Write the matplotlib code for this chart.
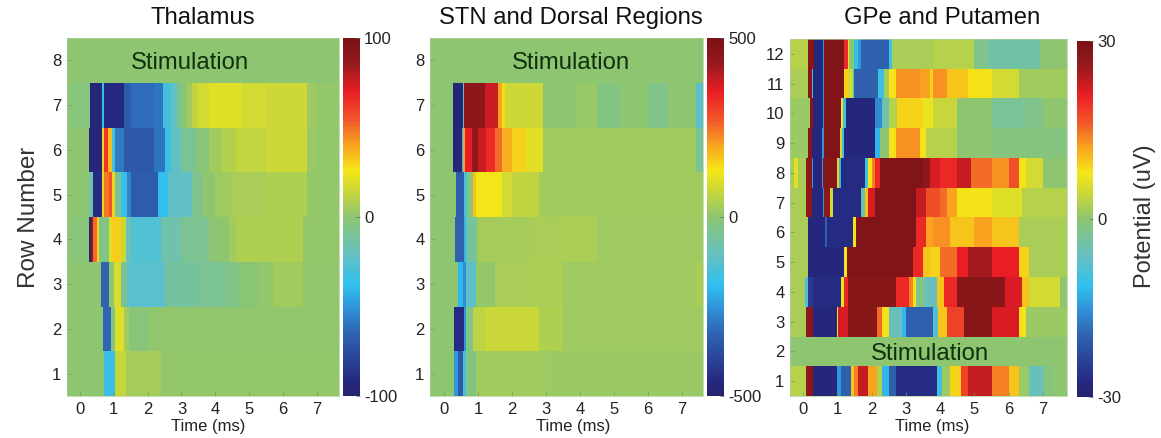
import matplotlib
matplotlib.use("Agg")
import matplotlib.pyplot as plt
from matplotlib.colors import LinearSegmentedColormap, Normalize
from matplotlib.cm import ScalarMappable

plt.rcParams['font.family'] = ['Liberation Sans', 'DejaVu Sans']

W, H = 1161, 438

# colour scale
cmap_pos = [0.0, 0.04, 0.17, 0.24, 0.31, 0.39, 0.50, 0.57, 0.63, 0.70, 0.77, 0.85, 0.93, 1.0]
cmap_col = ["#25246f", "#25287f", "#2e62b0", "#2f8fd6", "#30c0ee", "#63c0c4", "#8cc572",
            "#c8d63a", "#f5e716", "#f9a51f", "#f1592a", "#ea1d25", "#961a1d", "#7a1216"]

# each row: start time of every step (ms) and its value
thal_8_t = [-0.4]
thal_8_v = [0]
thal_7_t = [-0.4, 0.3, 0.65, 0.72, 1.3, 1.5, 2.2, 2.45, 2.7, 2.85, 3.0, 3.15, 3.3, 3.5, 3.8, 4.8, 5.5, 6.7, 7.0]
thal_7_v = [-3, -95, -35, -92, -68, -63, -60, -32, -22, -12, 0, 5, 12, 17, 20, 17, 15, 4, 2]
thal_6_t = [-0.4, 0.27, 0.65, 0.72, 0.82, 0.95, 1.05, 1.3, 2.2, 2.5, 2.7, 3.0, 3.4, 3.8, 4.2, 4.6, 5.5, 6.7, 7.0]
thal_6_v = [0, -95, 30, 62, 35, -30, -58, -70, -60, -35, -22, -10, -2, 5, 9, 13, 15, 3, 2]
thal_5_t = [-0.4, 0.27, 0.4, 0.65, 0.72, 0.85, 0.95, 1.05, 1.2, 1.4, 1.5, 2.3, 2.6, 3.3, 3.6, 4.0, 4.5, 5.5, 6.7]
thal_5_v = [0, -15, -90, 30, 48, 55, 30, -10, -35, -55, -68, -38, -22, -8, 0, 4, 7, 8, 2]
thal_4_t = [-0.4, 0.27, 0.33, 0.4, 0.5, 0.55, 0.85, 0.95, 1.2, 1.35, 1.5, 2.4, 3.0, 3.8, 4.4, 4.6, 6.6]
thal_4_v = [-2, -95, 90, 50, 30, -5, 20, 32, 15, -18, -28, -15, -8, 0, 5, 8, 2]
thal_3_t = [-0.4, 0.62, 0.85, 1.0, 1.2, 1.4, 2.5, 3.5, 4.3, 4.7, 5.3, 5.7, 6.6]
thal_3_v = [0, -65, 0, 18, -10, -25, -12, -9, -6, -1, 2, 5, 1]
thal_2_t = [-0.4, 0.68, 0.92, 1.05, 1.3, 1.45, 2.0]
thal_2_v = [0, -65, -5, 20, 5, -2, 1]
thal_1_t = [-0.4, 0.7, 1.03, 1.35, 2.4]
thal_1_v = [0, -35, 14, 6, 2]

stn_8_t = [-0.45]
stn_8_v = [0]
stn_7_t = [-0.45, 0.28, 0.57, 0.6, 1.2, 1.6, 1.7, 1.8, 2.9, 3.9, 4.5, 5.2, 6.0, 6.6, 7.4]
stn_7_v = [0, -480, -100, 450, 380, 200, 140, 75, 0, 15, -20, 0, -30, 0, -120]
stn_6_t = [-0.45, 0.28, 0.52, 0.57, 0.62, 0.82, 1.0, 1.25, 1.5, 1.7, 2.0, 2.4, 2.9, 7.4]
stn_6_v = [0, -480, -200, 200, 350, 450, 380, 330, 250, 190, 150, 105, 25, -50]
stn_5_t = [-0.45, 0.35, 0.6, 0.68, 0.85, 0.95, 1.7, 2.0, 2.8]
stn_5_v = [0, -340, -150, -10, 170, 125, 85, 60, 25]
stn_4_t = [-0.45, 0.33, 0.6, 0.65, 0.9, 1.0, 2.5, 3.5, 4.5]
stn_4_v = [0, -330, -200, -70, -10, 28, 32, 38, 20]
stn_3_t = [-0.45, 0.42, 0.55, 0.65, 0.95, 1.5, 2.5, 3.5, 7.4]
stn_3_v = [0, -200, -260, -120, 10, 34, 38, 20, 35]
stn_2_t = [-0.45, 0.3, 0.6, 0.65, 0.85, 1.2, 2.8, 3.5]
stn_2_v = [0, -450, -250, -30, 55, 72, 40, 20]
stn_1_t = [-0.45, 0.3, 0.4, 0.55, 0.65, 0.95, 3.0]
stn_1_v = [0, -250, -350, -150, -20, 25, 18]

gpe_12_t = [-0.4, 0.15, 0.32, 0.57, 0.62, 1.2, 1.3, 1.35, 1.5, 1.6, 1.7, 2.5, 2.6, 3.8, 5.0, 5.4, 6.9]
gpe_12_v = [3, 28, -28, -15, 29, 20, 8, 0, -11, -15, -20, -10, 2, 3, -2, -4, 0]
gpe_11_t = [-0.4, 0.15, 0.25, 0.3, 0.57, 0.62, 1.2, 1.3, 1.45, 1.5, 2.2, 2.35, 2.5, 2.7, 3.4, 3.7, 3.8, 4.2, 4.8, 5.5, 6.3]
gpe_11_v = [2, 28, -10, -28, -15, 29, 9, 5, -9, -20, -10, 2, 8, 13, 12, 9, 13, 10, 8, 5, 1.5]
gpe_10_t = [-0.4, 0.2, 0.3, 0.57, 0.6, 1.1, 1.17, 1.25, 2.1, 2.3, 2.5, 2.75, 3.5, 3.8, 4.5, 5.5, 6.5, 7.0]
gpe_10_v = [1, 28, -28, -15, 29, 8, -10, -28, -16, -5, 3, 9, 7, 4, 0, -3, -2, 0]
gpe_9_t = [-0.4, 0.15, 0.25, 0.55, 0.6, 1.07, 1.15, 1.2, 2.1, 2.25, 2.5, 2.7, 3.4, 3.6, 4.5, 5.5]
gpe_9_v = [1, 28, -28, -15, 29, 5, -10, -28, -12, 0, 8, 13, 8, 3, 0, -1]
gpe_8_t = [-0.4, -0.25, -0.15, 0.1, 0.25, 0.3, 0.55, 0.58, 1.0, 1.05, 1.1, 1.8, 1.9, 2.0, 2.1, 2.25, 3.5, 3.7, 4.0, 4.5, 4.9, 5.5, 6.0, 6.3, 6.5, 7.0]
gpe_8_v = [2, 6, 2, 27, -15, -28, -15, 28, 9, -12, -27, -10, 8, 14, 20, 29, 27, 22, 20, 23, 15, 13, 17, 8, 5, 0]
gpe_7_t = [-0.4, 0.1, 0.25, 0.57, 0.6, 0.8, 0.87, 1.7, 1.8, 1.9, 2.1, 3.3, 3.6, 4.0, 4.2, 4.5, 5.5, 6.4]
gpe_7_v = [2, 27, -28, -15, 27, 5, -27, -5, 10, 22, 29, 23, 17, 15, 12, 8, 6, 3]
gpe_6_t = [-0.4, 0.15, 0.65, 0.7, 1.45, 1.55, 3.3, 3.6, 3.8, 4.3, 5.0, 5.5, 6.3]
gpe_6_v = [2, -28, -20, -27, 8, 29, 20, 12, 13, 10, 12, 10, 2]
gpe_5_t = [-0.4, 0.15, 1.2, 1.27, 3.2, 3.5, 3.7, 4.0, 4.5, 4.8, 5.5, 6.3, 6.6]
gpe_5_v = [2, -28, 8, 29, 20, 10, 9, 15, 21, 25, 21, 9, 2]
gpe_4_t = [-0.4, 0.05, 0.15, 0.3, 1.1, 1.2, 1.3, 2.7, 3.1, 3.2, 3.3, 3.55, 3.9, 4.1, 4.5, 5.9, 6.4, 6.6, 7.5]
gpe_4_v = [2, -8, -25, -27, 7, 20, 28, 20, 14, 8, -2, -6, 10, 20, 28, 22, 10, 5, 0]
gpe_3_t = [-0.4, 0.1, 0.3, 1.0, 1.03, 1.3, 2.15, 2.3, 2.5, 2.9, 3.0, 3.8, 3.95, 4.2, 4.7, 5.5, 6.3, 6.5]
gpe_3_v = [2, 27, -28, 8, 22, 28, 15, 8, -6, -12, -20, -8, 10, 18, 28, 22, 8, 1]
gpe_2_t = [-0.4]
gpe_2_v = [0]
gpe_1_t = [-0.4, 0.1, 0.3, 1.0, 1.1, 1.4, 1.5, 1.6, 1.9, 2.15, 2.3, 2.5, 2.7, 3.9, 4.05, 4.3, 4.6, 4.8, 5.5, 6.0, 6.3, 6.6, 7.0, 7.3]
gpe_1_v = [3, 27, -28, -15, -20, 10, 14, 23, 12, 3, -12, -20, -27, -10, 1, 9, 18, 23, 14, 10, 1, -6, -1, 0]

thal_rows = [(thal_1_t, thal_1_v), (thal_2_t, thal_2_v), (thal_3_t, thal_3_v), (thal_4_t, thal_4_v),
             (thal_5_t, thal_5_v), (thal_6_t, thal_6_v), (thal_7_t, thal_7_v), (thal_8_t, thal_8_v)]
stn_rows = [(stn_1_t, stn_1_v), (stn_2_t, stn_2_v), (stn_3_t, stn_3_v), (stn_4_t, stn_4_v),
            (stn_5_t, stn_5_v), (stn_6_t, stn_6_v), (stn_7_t, stn_7_v), (stn_8_t, stn_8_v)]
gpe_rows = [(gpe_1_t, gpe_1_v), (gpe_2_t, gpe_2_v), (gpe_3_t, gpe_3_v), (gpe_4_t, gpe_4_v),
            (gpe_5_t, gpe_5_v), (gpe_6_t, gpe_6_v), (gpe_7_t, gpe_7_v), (gpe_8_t, gpe_8_v),
            (gpe_9_t, gpe_9_v), (gpe_10_t, gpe_10_v), (gpe_11_t, gpe_11_v), (gpe_12_t, gpe_12_v)]

cmap = LinearSegmentedColormap.from_list("potential", list(zip(cmap_pos, cmap_col)))
fig = plt.figure(figsize=(W / 100, H / 100), dpi=100)


def px_axes(x0, y0, x1, y1):
    return fig.add_axes([x0 / W, 1 - y1 / H, (x1 - x0) / W, (y1 - y0) / H])


def draw_panel(box, cbox, rows, xlim, limit, title, stim_xy, title_x, xlabel_x):
    ax = px_axes(*box)
    norm = Normalize(-limit, limit)
    for i, (times, values) in enumerate(rows):
        edges = times + [xlim[1]]
        edges[0] = xlim[0]
        ax.pcolormesh(edges, [i + 0.5, i + 1.5], [values], cmap=cmap, norm=norm, linewidth=0, rasterized=True)
    ax.set_xlim(*xlim)
    ax.set_ylim(0.5, len(rows) + 0.5)
    ax.set_xticks(range(8))
    ax.set_yticks(range(1, len(rows) + 1))
    ax.tick_params(direction="in", length=3, width=0.5, color="#6f9a60", labelsize=12, labelcolor="#222222", pad=4)
    for s in ax.spines.values():
        s.set_color("#a9cf98")
        s.set_linewidth(0.5)
    fig.text(xlabel_x / W, 1 - 426 / H, "Time (ms)", fontsize=12, color="#222222", ha="center", va="center")
    fig.text(title_x / W, 1 - 18 / H, title, fontsize=17.2, color="#111111", ha="center", va="center")
    ax.text(stim_xy[0], stim_xy[1], "Stimulation", fontsize=17.2, color="#10300f", ha="center", va="center")

    cax = px_axes(*cbox)
    cb = fig.colorbar(ScalarMappable(norm=norm, cmap=cmap), cax=cax)
    cb.set_ticks([-limit, 0, limit])
    cb.set_ticklabels([str(-limit), "0", str(limit)])
    cb.outline.set_visible(False)
    cax.tick_params(direction="in", length=3, width=0.5, color="#666666", labelsize=12, labelcolor="#222222", pad=3)
    return ax


ax1 = draw_panel((67, 38, 339, 396), (343, 38, 360, 396), thal_rows, (-0.38, 7.65), 100,
                 "Thalamus", (3.25, 7.94), 203, 208)
ax1.set_ylabel("Row Number", fontsize=17.5, color="#333333", labelpad=9)
draw_panel((430, 38, 703, 396), (707, 38, 724, 396), stn_rows, (-0.41, 7.62), 500,
           "STN and Dorsal Regions", (3.75, 7.94), 571, 573)
draw_panel((790, 39, 1067, 396), (1077, 41, 1093, 397), gpe_rows, (-0.38, 7.7), 30,
           "GPe and Putamen", (3.7, 1.92), 942, 932)
fig.text(1145 / W, 1 - 216 / H, "Potential (uV)", rotation=90, fontsize=17, color="#333333",
         ha="center", va="center")

fig.savefig("out.png", dpi=100)
